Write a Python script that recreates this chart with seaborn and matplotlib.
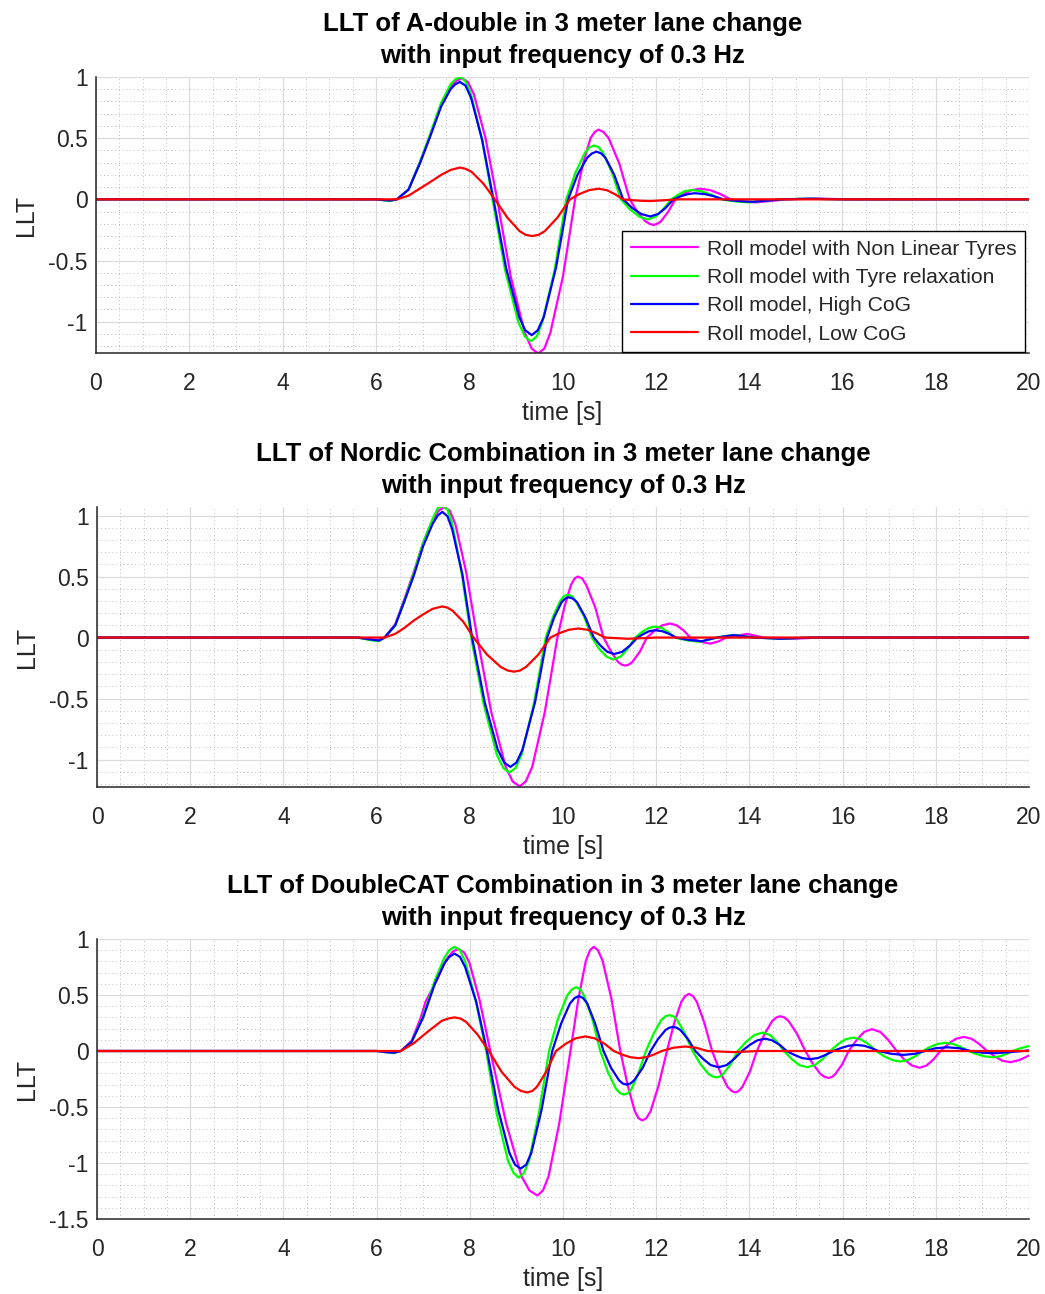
import pandas as pd
import seaborn as sns
import matplotlib.pyplot as plt
from matplotlib.lines import Line2D
from matplotlib.ticker import MultipleLocator, FuncFormatter

sns.set_style('white')
plt.rcParams['font.family'] = ['Liberation Sans', 'DejaVu Sans']
plt.rcParams['axes.unicode_minus'] = False

# legend labels and line colours (MATLAB style)
labels = ['Roll model with Non Linear Tyres', 'Roll model with Tyre relaxation',
          'Roll model, High CoG', 'Roll model, Low CoG']
colors = ['#ff00ff', '#00ff00', '#0000ff', '#ff0000']

titles = ['LLT of A-double in 3 meter lane change\nwith input frequency of 0.3 Hz',
          'LLT of Nordic Combination in 3 meter lane change\nwith input frequency of 0.3 Hz',
          'LLT of DoubleCAT Combination in 3 meter lane change\nwith input frequency of 0.3 Hz']

# ---- A-double ----
t_ad_nl = [0, 6.0, 6.3, 6.45, 6.7, 6.95, 7.16, 7.4, 7.6, 7.73, 7.85, 7.97, 8.1, 8.35, 8.6, 8.89, 9.19, 9.34,
           9.48, 9.61, 9.74, 10.01, 10.27, 10.44, 10.6, 10.69, 10.77, 10.88, 10.99, 11.22, 11.44, 11.61, 11.78,
           11.87, 11.95, 12.03, 12.11, 12.26, 12.42, 12.6, 12.77, 12.95, 13.17, 13.38, 13.6, 13.78, 13.97, 14.15,
           14.8, 15.4, 16.2, 20]
v_ad_nl = [0, 0, -0.01, 0, 0.08, 0.31, 0.52, 0.78, 0.92, 0.97, 0.99, 0.96, 0.86, 0.5, 0, -0.63, -1.09, -1.22,
           -1.26, -1.22, -1.09, -0.63, 0, 0.29, 0.5, 0.55, 0.57, 0.55, 0.5, 0.29, 0, -0.105, -0.18,
           -0.2, -0.21, -0.2, -0.18, -0.105, 0, 0.044, 0.075, 0.087, 0.075, 0.044, 0, -0.012, -0.02, -0.025,
           0, 0.006, 0, 0]
t_ad_tr = [0, 6.0, 6.3, 6.45, 6.7, 6.95, 7.16, 7.4, 7.6, 7.7, 7.8, 7.91, 8.03, 8.27, 8.5, 8.77, 9.05, 9.19,
           9.32, 9.45, 9.57, 9.83, 10.08, 10.28, 10.48, 10.58, 10.68, 10.78, 10.87, 11.06, 11.25, 11.44, 11.64,
           11.83, 12.0, 12.16, 12.33, 12.48, 12.62, 12.77, 12.98, 13.19, 13.4, 13.6, 13.8, 14.0, 14.6, 15.2,
           16.0, 20]
v_ad_tr = [0, 0, -0.015, 0, 0.08, 0.31, 0.53, 0.79, 0.94, 0.98, 1.0, 0.97, 0.87, 0.5, 0, -0.58, -1.0, -1.12,
           -1.16, -1.12, -1.0, -0.58, 0, 0.22, 0.38, 0.425, 0.44, 0.425, 0.38, 0.22, 0, -0.08, -0.14,
           -0.165, -0.14, -0.08, 0, 0.038, 0.066, 0.076, 0.066, 0.038, 0, -0.012, -0.02, -0.025, 0, 0.005,
           0, 0]
t_ad_hi = [0, 6.0, 6.3, 6.45, 6.7, 6.95, 7.16, 7.4, 7.6, 7.7, 7.8, 7.92, 8.04, 8.28, 8.52, 8.79, 9.07, 9.2,
           9.34, 9.47, 9.6, 9.86, 10.12, 10.32, 10.53, 10.63, 10.73, 10.83, 10.92, 11.11, 11.3, 11.49, 11.69,
           11.88, 12.05, 12.21, 12.38, 12.53, 12.69, 12.84, 13.05, 13.25, 13.45, 13.66, 13.87, 14.08, 14.7, 15.3,
           16.0, 20]
v_ad_hi = [0, 0, -0.01, 0, 0.08, 0.3, 0.51, 0.76, 0.9, 0.94, 0.96, 0.93, 0.83, 0.48, 0, -0.56, -0.96, -1.07,
           -1.11, -1.07, -0.96, -0.56, 0, 0.2, 0.34, 0.375, 0.39, 0.375, 0.34, 0.2, 0, -0.07, -0.12,
           -0.14, -0.12, -0.07, 0, 0.025, 0.043, 0.05, 0.043, 0.025, 0, -0.01, -0.017, -0.02, 0, 0.005,
           0, 0]
t_ad_lo = [0, 6.0, 6.45, 6.7, 6.95, 7.16, 7.4, 7.6, 7.8, 7.92, 8.05, 8.3, 8.55, 8.82, 9.08, 9.21, 9.35, 9.49,
           9.62, 9.89, 10.16, 10.36, 10.57, 10.77, 10.95, 11.12, 11.3, 11.5, 11.7, 11.88, 12.5, 20]
v_ad_lo = [0, 0, 0, 0.03, 0.09, 0.14, 0.2, 0.24, 0.26, 0.25, 0.225, 0.13, 0, -0.15, -0.26, -0.29, -0.3, -0.29,
           -0.26, -0.15, 0, 0.043, 0.075, 0.087, 0.075, 0.043, 0, -0.007, -0.012, -0.014, 0, 0]

# ---- Nordic Combination ----
t_nc_nl = [0, 5.6, 5.85, 6.05, 6.17, 6.4, 6.6, 6.8, 7.0, 7.2, 7.33, 7.45, 7.57, 7.69, 7.92, 8.16, 8.46, 8.77,
           8.92, 9.07, 9.2, 9.34, 9.61, 9.88, 10.03, 10.17, 10.25, 10.32, 10.41, 10.5, 10.69, 10.87, 11.03,
           11.18, 11.26, 11.34, 11.41, 11.49, 11.65, 11.8, 11.97, 12.13, 12.3, 12.44, 12.59, 12.73, 12.95,
           13.16, 13.35, 13.5, 13.95, 14.3, 14.9, 15.5, 20]
v_nc_nl = [0, 0, -0.015, -0.02, 0, 0.11, 0.32, 0.54, 0.78, 0.96, 1.04, 1.07, 1.04, 0.93, 0.54, 0, -0.61, -1.06,
           -1.18, -1.22, -1.18, -1.06, -0.61, 0, 0.25, 0.43, 0.485, 0.5, 0.485, 0.43, 0.25, 0, -0.115,
           -0.2, -0.222, -0.23, -0.222, -0.2, -0.115, 0, 0.058, 0.1, 0.115, 0.1, 0.058, 0, -0.035,
           -0.05, -0.03, 0, 0.03, 0, -0.01, 0, 0]
t_nc_tr = [0, 5.6, 5.85, 6.05, 6.17, 6.4, 6.6, 6.8, 7.0, 7.2, 7.31, 7.41, 7.52, 7.62, 7.82, 8.03, 8.3, 8.58,
           8.72, 8.85, 8.98, 9.11, 9.37, 9.63, 9.79, 9.94, 10.02, 10.1, 10.19, 10.27, 10.45, 10.62, 10.77,
           10.93, 11.08, 11.24, 11.39, 11.55, 11.69, 11.84, 11.98, 12.12, 12.26, 12.4, 12.68, 12.95, 13.3,
           13.66, 14.1, 14.66, 15.3, 20]
v_nc_tr = [0, 0, -0.02, -0.03, 0, 0.1, 0.31, 0.53, 0.78, 0.97, 1.06, 1.08, 1.05, 0.94, 0.54, 0, -0.55, -0.96,
           -1.07, -1.105, -1.07, -0.96, -0.55, 0, 0.175, 0.3, 0.34, 0.35, 0.34, 0.3, 0.175, 0, -0.09,
           -0.155, -0.18, -0.155, -0.09, 0, 0.045, 0.078, 0.09, 0.078, 0.045, 0, -0.024, -0.035, 0,
           0.022, 0, -0.01, 0, 0]
t_nc_hi = [0, 5.6, 5.85, 6.05, 6.17, 6.4, 6.6, 6.8, 7.0, 7.2, 7.31, 7.41, 7.52, 7.62, 7.84, 8.05, 8.32, 8.6,
           8.74, 8.87, 9.0, 9.13, 9.4, 9.66, 9.81, 9.97, 10.05, 10.12, 10.21, 10.3, 10.48, 10.66, 10.81,
           10.95, 11.1, 11.27, 11.43, 11.6, 11.73, 11.85, 11.98, 12.13, 12.28, 12.43, 12.7, 12.98, 13.3,
           13.66, 14.1, 14.66, 15.3, 20]
v_nc_hi = [0, 0, -0.015, -0.025, 0, 0.1, 0.3, 0.51, 0.75, 0.93, 1.0, 1.03, 0.995, 0.89, 0.52, 0, -0.53, -0.92,
           -1.025, -1.06, -1.025, -0.92, -0.53, 0, 0.165, 0.29, 0.32, 0.33, 0.32, 0.29, 0.165, 0, -0.068,
           -0.117, -0.135, -0.117, -0.068, 0, 0.03, 0.052, 0.06, 0.052, 0.03, 0, -0.02, -0.03, 0,
           0.02, 0, -0.01, 0, 0]
t_nc_lo = [0, 5.6, 6.17, 6.4, 6.6, 6.8, 7.0, 7.2, 7.41, 7.52, 7.63, 7.86, 8.08, 8.37, 8.66, 8.81, 8.95, 9.08,
           9.21, 9.47, 9.73, 9.93, 10.13, 10.33, 10.52, 10.71, 10.9, 11.4, 12.0, 20]
v_nc_lo = [0, 0, 0, 0.03, 0.08, 0.14, 0.19, 0.235, 0.255, 0.245, 0.22, 0.13, 0, -0.14, -0.24, -0.27, -0.28, -0.27,
           -0.24, -0.14, 0, 0.037, 0.064, 0.074, 0.064, 0.037, 0, -0.01, 0, 0]

# ---- DoubleCAT Combination ----
t_dc_nl = [0, 6.0, 6.2, 6.37, 6.52, 6.75, 6.95, 7.05, 7.15, 7.3, 7.5, 7.64, 7.76, 7.88, 7.99, 8.21, 8.44, 8.78,
           9.11, 9.28, 9.45, 9.57, 9.69, 9.92, 10.16, 10.33, 10.49, 10.58, 10.66, 10.75, 10.85, 11.04, 11.23,
           11.39, 11.54, 11.62, 11.7, 11.79, 11.88, 12.05, 12.23, 12.39, 12.54, 12.62, 12.7, 12.79, 12.87, 13.03,
           13.2, 13.37, 13.53, 13.62, 13.7, 13.77, 13.85, 14.01, 14.16, 14.33, 14.49, 14.58, 14.66, 14.75, 14.84,
           15.02, 15.2, 15.37, 15.53, 15.62, 15.7, 15.77, 15.84, 15.99, 16.13, 16.3, 16.46, 16.63, 16.81, 16.98,
           17.16, 17.32, 17.49, 17.65, 17.8, 17.95, 18.1, 18.27, 18.43, 18.6, 18.77, 18.93, 19.1, 19.27, 19.43,
           19.6, 19.8, 20]
v_dc_nl = [0, 0, -0.01, -0.015, 0, 0.09, 0.3, 0.44, 0.52, 0.64, 0.82, 0.89, 0.91, 0.88, 0.79, 0.455, 0, -0.645,
           -1.12, -1.245, -1.29, -1.245, -1.12, -0.645, 0, 0.465, 0.805, 0.9, 0.93, 0.9, 0.805, 0.465, 0,
           -0.31, -0.537, -0.6, -0.62, -0.6, -0.537, -0.31, 0, 0.255, 0.44, 0.49, 0.51, 0.49, 0.44, 0.255,
           0, -0.185, -0.32, -0.357, -0.37, -0.357, -0.32, -0.185, 0, 0.155, 0.268, 0.3, 0.31, 0.3, 0.268,
           0.155, 0, -0.12, -0.208, -0.232, -0.24, -0.232, -0.208, -0.12, 0, 0.098, 0.17, 0.195, 0.17, 0.098,
           0, -0.075, -0.13, -0.15, -0.13, -0.075, 0, 0.063, 0.109, 0.126, 0.109, 0.063, 0, -0.05, -0.087,
           -0.1, -0.08, -0.04]
t_dc_tr = [0, 6.0, 6.2, 6.37, 6.52, 6.75, 7.0, 7.1, 7.25, 7.45, 7.56, 7.67, 7.79, 7.9, 8.12, 8.35, 8.58, 8.82,
           8.94, 9.05, 9.16, 9.27, 9.48, 9.7, 9.89, 10.09, 10.19, 10.28, 10.37, 10.45, 10.63, 10.8, 10.97,
           11.14, 11.23, 11.31, 11.39, 11.47, 11.62, 11.78, 11.95, 12.11, 12.2, 12.28, 12.37, 12.45, 12.61,
           12.78, 12.95, 13.12, 13.21, 13.29, 13.37, 13.44, 13.6, 13.75, 13.93, 14.11, 14.29, 14.44, 14.59,
           14.74, 14.91, 15.07, 15.24, 15.4, 15.57, 15.73, 15.9, 16.06, 16.23, 16.39, 16.56, 16.72, 16.89,
           17.07, 17.24, 17.4, 17.56, 17.72, 17.88, 18.04, 18.2, 18.37, 18.53, 18.7, 18.88, 19.05, 19.23,
           19.37, 19.51, 19.65, 19.82, 20]
v_dc_tr = [0, 0, -0.01, -0.02, 0, 0.08, 0.31, 0.44, 0.63, 0.83, 0.9, 0.93, 0.9, 0.8, 0.465, 0, -0.565, -0.98,
           -1.09, -1.13, -1.09, -0.98, -0.565, 0, 0.285, 0.495, 0.55, 0.57, 0.55, 0.495, 0.285, 0, -0.195,
           -0.34, -0.377, -0.39, -0.377, -0.34, -0.195, 0, 0.16, 0.277, 0.31, 0.32, 0.31, 0.277, 0.16,
           0, -0.118, -0.204, -0.227, -0.235, -0.227, -0.204, -0.118, 0, 0.083, 0.143, 0.165, 0.143, 0.083,
           0, -0.073, -0.126, -0.145, -0.126, -0.073, 0, 0.06, 0.104, 0.12, 0.104, 0.06, 0, -0.047,
           -0.081, -0.094, -0.081, -0.047, 0, 0.037, 0.063, 0.073, 0.063, 0.037, 0, -0.028, -0.048, -0.056,
           -0.048, -0.028, 0, 0.025, 0.044]
t_dc_hi = [0, 6.0, 6.2, 6.37, 6.52, 6.75, 7.0, 7.1, 7.25, 7.45, 7.56, 7.67, 7.79, 7.9, 8.14, 8.37, 8.61, 8.85,
           8.97, 9.09, 9.21, 9.32, 9.54, 9.77, 9.96, 10.15, 10.25, 10.34, 10.43, 10.52, 10.69, 10.87, 11.03,
           11.2, 11.28, 11.36, 11.45, 11.53, 11.71, 11.88, 12.04, 12.2, 12.28, 12.36, 12.44, 12.52, 12.68,
           12.84, 13.01, 13.17, 13.34, 13.51, 13.67, 13.84, 14.01, 14.17, 14.34, 14.49, 14.65, 14.8, 14.97,
           15.13, 15.3, 15.47, 15.63, 15.8, 15.97, 16.13, 16.3, 16.46, 16.61, 16.77, 17.05, 17.3, 17.55,
           17.77, 18.0, 18.24, 18.5, 18.75, 19.0, 19.27, 19.6, 20]
v_dc_hi = [0, 0, -0.01, -0.015, 0, 0.08, 0.3, 0.42, 0.6, 0.78, 0.84, 0.87, 0.84, 0.75, 0.435, 0, -0.525, -0.91,
           -1.015, -1.05, -1.015, -0.91, -0.525, 0, 0.245, 0.425, 0.473, 0.49, 0.473, 0.425, 0.245, 0, -0.15,
           -0.26, -0.29, -0.3, -0.29, -0.26, -0.15, 0, 0.107, 0.187, 0.208, 0.215, 0.208, 0.187, 0.107,
           0, -0.072, -0.126, -0.145, -0.126, -0.072, 0, 0.055, 0.095, 0.11, 0.095, 0.055, 0, -0.036,
           -0.063, -0.073, -0.063, -0.036, 0, 0.027, 0.047, 0.054, 0.047, 0.027, 0, -0.025, -0.035, -0.025,
           0, 0.025, 0.033, 0.025, 0, -0.015, -0.02, -0.01, 0.005]
t_dc_lo = [0, 6.0, 6.52, 6.8, 7.09, 7.4, 7.54, 7.67, 7.8, 7.92, 8.16, 8.41, 8.68, 8.96, 9.1, 9.23, 9.34, 9.44,
           9.64, 9.85, 10.06, 10.27, 10.48, 10.68, 10.89, 11.09, 11.27, 11.44, 11.62, 11.79, 11.95, 12.12,
           12.38, 12.62, 12.85, 13.1, 13.66, 14.2, 20]
v_dc_lo = [0, 0, 0, 0.07, 0.17, 0.27, 0.29, 0.3, 0.29, 0.26, 0.15, 0, -0.185, -0.32, -0.357, -0.37, -0.357, -0.32,
           -0.185, 0, 0.065, 0.113, 0.13, 0.113, 0.065, 0, -0.032, -0.055, -0.064, -0.055, -0.032, 0,
           0.03, 0.04, 0.03, 0, -0.01, 0, 0]

series = [
    [(t_ad_nl, v_ad_nl), (t_ad_tr, v_ad_tr), (t_ad_hi, v_ad_hi), (t_ad_lo, v_ad_lo)],
    [(t_nc_nl, v_nc_nl), (t_nc_tr, v_nc_tr), (t_nc_hi, v_nc_hi), (t_nc_lo, v_nc_lo)],
    [(t_dc_nl, v_dc_nl), (t_dc_tr, v_dc_tr), (t_dc_hi, v_dc_hi), (t_dc_lo, v_dc_lo)],
]
ylims = [(-1.256, 1.0), (-1.225, 1.07), (-1.5, 1.0)]
yticks = [[-1, -0.5, 0, 0.5, 1], [-1, -0.5, 0, 0.5, 1], [-1.5, -1, -0.5, 0, 0.5, 1]]

# axes boxes in pixels (left, top, right, bottom) of the 1045x1294 figure
W, H = 1045, 1294
boxes = [(96, 77, 1029, 353), (97, 507, 1029, 787), (97, 939, 1029, 1219)]

fig = plt.figure(figsize=(W / 100, H / 100), dpi=100)
dark = '#262626'

for k in range(3):
    l, t, r, b = boxes[k]
    ax = fig.add_axes([l / W, 1 - b / H, (r - l) / W, (b - t) / H])

    frames = []
    for (tt, vv), name in zip(series[k], labels):
        frames.append(pd.DataFrame({'time': tt, 'LLT': vv, 'model': name}))
    df = pd.concat(frames, ignore_index=True)

    sns.lineplot(data=df, x='time', y='LLT', hue='model', hue_order=labels, palette=colors,
                 estimator=None, sort=False, linewidth=1.6, legend=False, ax=ax,
                 solid_joinstyle='round')

    ax.set_xlim(0, 20)
    ax.set_ylim(*ylims[k])
    ax.set_xticks(range(0, 21, 2))
    ax.set_yticks(yticks[k])
    ax.xaxis.set_minor_locator(MultipleLocator(0.5))
    ax.yaxis.set_minor_locator(MultipleLocator(0.1))
    ax.yaxis.set_major_formatter(FuncFormatter(lambda v, p: f'{v:g}'))

    ax.set_axisbelow(True)
    ax.grid(which='major', color='#dcdcdc', linewidth=0.9)
    ax.grid(which='minor', color='#a8a8a8', linestyle=(0, (1, 3.5)), linewidth=0.6)

    for s in ['top', 'right']:
        ax.spines[s].set_visible(False)
    for s in ['left', 'bottom']:
        ax.spines[s].set_color(dark)
        ax.spines[s].set_linewidth(1.1)

    ax.tick_params(which='major', direction='in', length=5, width=1, color=dark,
                   labelcolor=dark, labelsize=16.5)
    ax.tick_params(axis='x', which='major', pad=14)
    ax.tick_params(axis='y', which='major', pad=6)
    ax.tick_params(which='minor', length=0)

    ax.set_xlabel('time [s]', fontsize=18, color=dark, labelpad=4)
    ax.set_ylabel('LLT', fontsize=18, color=dark, labelpad=7)
    ax.set_title(titles[k], fontsize=18.5, fontweight='bold', color='black', pad=10, linespacing=1.41)

    if k == 0:
        handles = [Line2D([], [], color=c, linewidth=1.6) for c in colors]
        leg = ax.legend(handles, labels, loc='lower right', bbox_to_anchor=(1 - 4 / 933, 1 / 276),
                        borderaxespad=0, fontsize=15.2, frameon=True, fancybox=False,
                        edgecolor='black', framealpha=1, handlelength=3.2,
                        handletextpad=0.4, labelspacing=0.44, borderpad=0.4)
        leg.get_frame().set_linewidth(1.0)
        for txt in leg.get_texts():
            txt.set_color(dark)

fig.savefig('out.png', dpi=100)
